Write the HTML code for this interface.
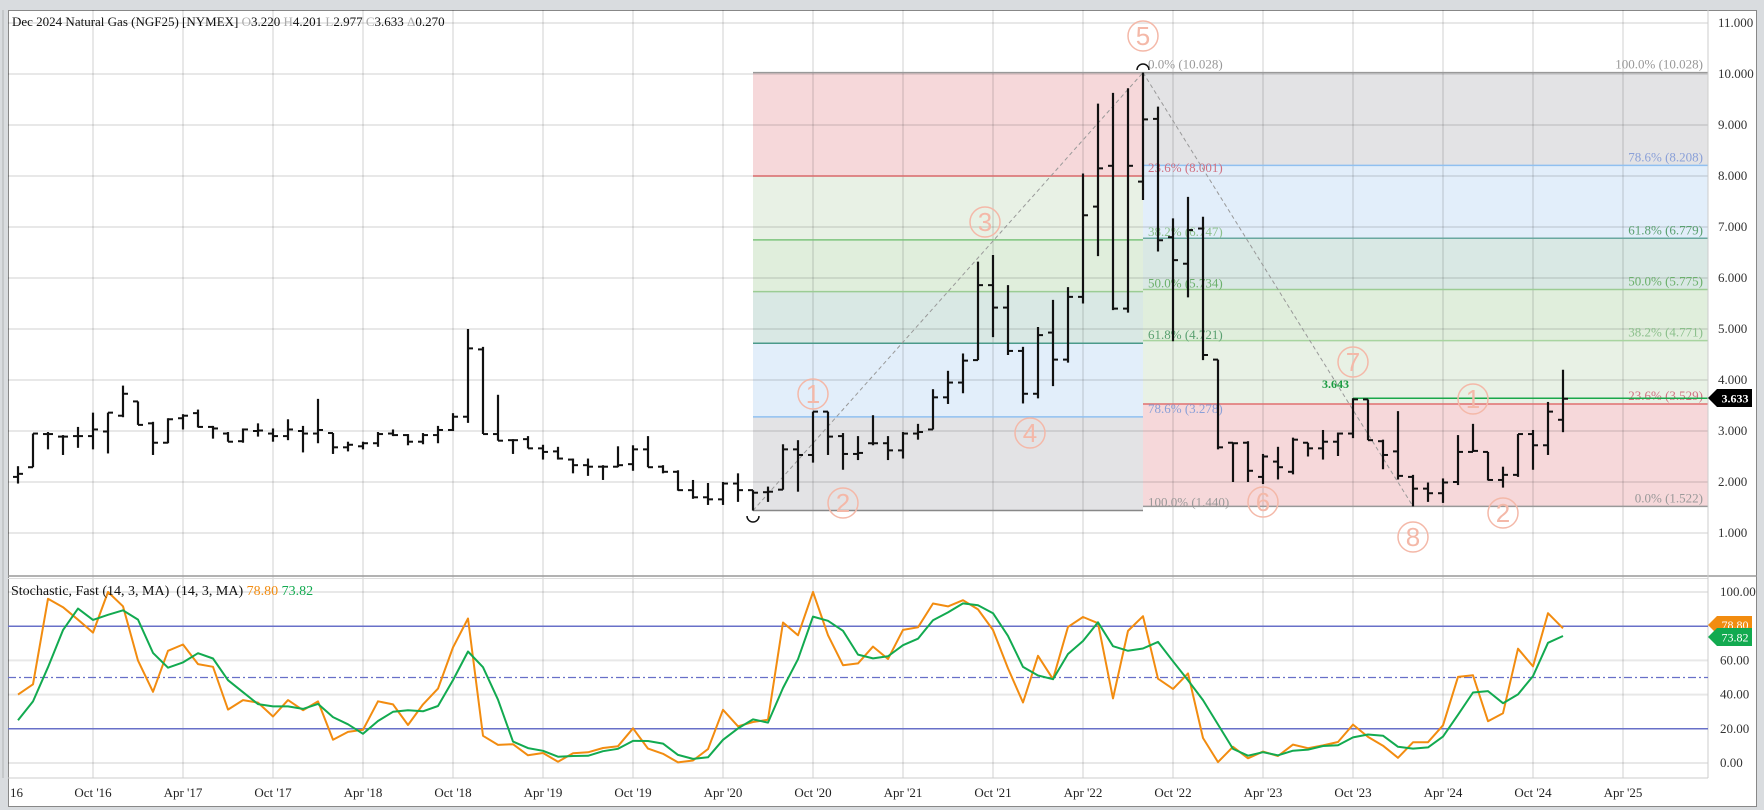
<!DOCTYPE html>
<html><head><meta charset="utf-8">
<style>
html,body{margin:0;padding:0;background:#d9dcdf;}
svg{display:block;font-family:"Liberation Serif",serif;}
</style></head>
<body>
<svg id="c" width="1764" height="810" xmlns="http://www.w3.org/2000/svg"></svg>
<script>
const D=[
[2.10,2.31,1.97,2.16],[2.29,2.95,2.29,2.95],[2.94,2.98,2.64,2.94],[2.89,2.92,2.53,2.89],[2.9,3.08,2.67,2.9],
[2.9,3.36,2.64,3.03],[2.99,3.36,2.56,3.36],[3.3,3.89,3.27,3.73],[3.58,3.58,3.12,3.12],[3.15,3.18,2.53,2.77],
[2.77,3.25,2.76,3.23],[3.25,3.33,3.03,3.3],[3.35,3.42,3.07,3.08],[3.08,3.10,2.85,3.05],[2.95,2.98,2.79,2.79],
[2.8,3.05,2.77,3.03],[3.0,3.15,2.89,3.01],[2.95,3.05,2.79,2.9],[2.9,3.23,2.82,3.03],[3.0,3.10,2.58,2.95],
[2.95,3.63,2.76,3.02],[2.96,2.96,2.55,2.68],[2.68,2.79,2.6,2.73],[2.7,2.79,2.64,2.76],[2.76,2.98,2.69,2.94],
[2.95,3.03,2.9,2.92],[2.92,2.94,2.72,2.79],[2.79,2.96,2.74,2.92],[2.92,3.10,2.76,3.02],[3.02,3.35,3.0,3.28],
[3.28,5.0,3.16,4.62],[4.6,4.65,2.94,2.94],[2.94,3.71,2.81,2.81],[2.82,2.84,2.55,2.82],[2.84,2.9,2.66,2.66],
[2.66,2.73,2.44,2.59],[2.6,2.69,2.44,2.46],[2.44,2.46,2.17,2.33],[2.33,2.46,2.12,2.3],[2.3,2.33,2.04,2.3],
[2.3,2.7,2.29,2.33],[2.35,2.72,2.22,2.64],[2.64,2.9,2.29,2.29],[2.3,2.33,2.17,2.2],[2.2,2.23,1.83,1.84],
[1.84,2.04,1.67,1.7],[1.7,1.98,1.55,1.66],[1.66,2.0,1.55,1.97],[1.97,2.17,1.61,1.84],[1.84,1.84,1.44,1.79],
[1.8,1.91,1.61,1.81],[1.85,2.74,1.85,2.64],[2.64,2.82,1.81,2.53],[2.53,3.38,2.38,3.38],[3.38,3.38,2.53,2.89],
[2.9,2.96,2.24,2.55],[2.55,2.9,2.43,2.57],[2.76,3.31,2.72,2.76],[2.76,2.9,2.43,2.62],[2.62,2.98,2.46,2.95],
[2.95,3.14,2.83,2.98],[3.03,3.82,3.03,3.66],[3.66,4.18,3.53,3.95],[3.95,4.52,3.74,4.38],[4.39,6.32,4.39,5.86],
[5.86,6.45,4.84,5.42],[5.42,5.86,4.49,4.57],[4.57,4.65,3.54,3.73],[3.73,5.04,3.64,4.88],[4.93,5.57,3.88,4.40],
[4.4,5.82,4.34,5.63],[5.63,8.05,5.5,7.23],[7.4,9.42,6.43,8.15],[8.2,9.63,5.37,5.4],[5.4,9.72,5.32,8.2],
[7.89,10.028,7.53,9.11],[9.12,9.36,6.52,6.74],[6.8,7.17,4.76,6.35],[6.28,7.59,5.62,6.94],[6.97,7.2,4.39,4.49],
[4.40,4.40,2.64,2.68],[2.77,2.77,2.0,2.76],[2.77,2.8,2.0,2.22],[2.1,2.55,1.96,2.5],[2.4,2.69,2.05,2.29],
[2.2,2.87,2.15,2.83],[2.77,2.77,2.5,2.66],[2.66,3.02,2.44,2.79],[2.79,2.97,2.51,2.95],[2.95,3.643,2.86,3.62],
[3.62,3.62,2.82,2.82],[2.8,2.83,2.25,2.53],[2.6,3.39,2.05,2.12],[2.1,2.14,1.522,1.87],[1.87,1.99,1.61,1.78],
[1.78,2.07,1.59,1.99],[2.0,2.92,1.94,2.59],[2.59,3.14,2.59,2.61],[2.59,2.59,2.03,2.04],[2.04,2.3,1.89,2.14],
[2.14,2.94,2.1,2.94],[2.94,3.02,2.24,2.72],[2.72,3.57,2.53,3.38],[3.22,4.201,2.977,3.633]];
const X=m=>93+15*m, Y=p=>584-51*p, S=v=>763-1.71*v;
let h='';
const L=(x1,y1,x2,y2,c,w,extra)=>h+=`<line x1="${x1}" y1="${y1}" x2="${x2}" y2="${y2}" stroke="${c}" stroke-width="${w}" ${extra||''}/>`;
const R=(x,y,w,hh,c)=>h+=`<rect x="${x}" y="${y}" width="${w}" height="${hh}" fill="${c}"/>`;
const T=(x,y,t,c,s,a,extra)=>h+=`<text x="${x}" y="${y}" fill="${c}" font-size="${s||13}" text-anchor="${a||'start'}" ${extra||''}>${t}</text>`;
R(8,10,1749,797,'#fff');
h+=`<rect x="8.5" y="10.5" width="1748" height="796" fill="none" stroke="#888"/>`;
const fl=[[10.028,8.001,'#f6d8da'],[8.001,6.747,'#e8f1e5'],[6.747,5.734,'#e0eedc'],[5.734,4.721,'#d9e8e4'],[4.721,3.278,'#e2eefa'],[3.278,1.44,'#e3e3e5']];
fl.forEach(f=>R(753,Y(f[0]),390,Y(f[1])-Y(f[0]),f[2]));
const fr=[[10.028,8.208,'#e3e3e5'],[8.208,6.779,'#e2eefa'],[6.779,5.775,'#d9e8e4'],[5.775,4.771,'#e0eedc'],[4.771,3.529,'#e8f1e5'],[3.529,1.522,'#f6d8da']];
fr.forEach(f=>R(1143,Y(f[0]),565,Y(f[1])-Y(f[0]),f[2]));
for(let p=1;p<=11;p++)L(8,Y(p),1708,Y(p),'rgba(0,0,0,0.09)',2);
[0,40,60,100].forEach(v=>L(8,S(v),1708,S(v),'rgba(0,0,0,0.09)',2));
for(let k=-1;k<=17;k++){L(93+90*k,10,93+90*k,778,'rgba(0,0,0,0.09)',2);}
[[10.028,'#999'],[8.001,'#e07070'],[6.747,'#7cc47c'],[5.734,'#9ccc94'],[4.721,'#4a9a8a'],[3.278,'#90c0f0'],[1.44,'#888']].forEach(f=>L(753,Y(f[0]),1143,Y(f[0]),f[1],1.5));
[[10.028,'#999'],[8.208,'#90c0f0'],[6.779,'#6aa8a0'],[5.775,'#9ccc94'],[4.771,'#a8d4a0'],[3.529,'#e07070'],[1.522,'#999']].forEach(f=>L(1143,Y(f[0]),1708,Y(f[0]),f[1],1.5));
[['0.0% (10.028)',10.028,'#999'],['23.6% (8.001)',8.001,'#d07080'],['38.2% (6.747)',6.747,'#8cc08c'],['50.0% (5.734)',5.734,'#6cb06c'],['61.8% (4.721)',4.721,'#5aa070'],['78.6% (3.278)',3.278,'#8aa0d8'],['100.0% (1.440)',1.44,'#999']].forEach(f=>T(1148,Y(f[1])-4,f[0],f[2],13));
[['100.0% (10.028)',10.028,'#999'],['78.6% (8.208)',8.208,'#8aa0d8'],['61.8% (6.779)',6.779,'#5aa070'],['50.0% (5.775)',5.775,'#6cb06c'],['38.2% (4.771)',4.771,'#8cc08c'],['23.6% (3.529)',3.529,'#d07080'],['0.0% (1.522)',1.522,'#999']].forEach(f=>T(1703,Y(f[1])-4,f[0],f[2],13,'end'));
L(753,Y(1.44),1143,Y(10.028),'#999',1,'stroke-dasharray="4,3"');
L(1143,Y(10.028),1413,Y(1.522),'#999',1,'stroke-dasharray="4,3"');
L(1353,Y(3.643),1708,Y(3.643),'#1aa84a',1.5);
T(1322,Y(3.643)-10,'3.643','#1a9a40',12,'start','font-weight="bold"');
h+=`<path d="M747,516 a6,6 0 0 0 12,0" fill="none" stroke="#111" stroke-width="1.5"/>`;
h+=`<path d="M1137,70 a6,6 0 0 1 12,0" fill="none" stroke="#111" stroke-width="1.5"/>`;
D.forEach((d,i)=>{const x=X(i-5);L(x,Y(d[1]),x,Y(d[2]),'#111',2.2);L(x-5,Y(d[0]),x,Y(d[0]),'#111',2);L(x,Y(d[3]),x+5,Y(d[3]),'#111',2);});
[['1',813,394],['2',843,503],['3',985,222],['4',1030,433],['5',1143,36],['6',1263,502],['7',1353,362],['8',1413,537],['1',1473,399],['2',1503,513]].forEach(w=>{
h+=`<circle cx="${w[1]}" cy="${w[2]}" r="15" fill="none" stroke="#f4b8a8" stroke-width="1.5"/>`;
T(w[1],w[2]+9,w[0],'#f4b8a8',26,'middle','font-family="Liberation Sans,sans-serif"');});
L(8,576,1757,576,'#999',1.5);L(8,578.5,1708,578.5,'#ddd',1);
L(1708,10,1708,778,'#ccc',1);L(8,778,1708,778,'#ccc',1);
L(8,S(80),1708,S(80),'#6870c8',1.5);L(8,S(20),1708,S(20),'#6870c8',1.5);
L(8,S(50),1708,S(50),'#6870c8',1.2,'stroke-dasharray="8,3,2,3"');
const K=[],Dd=[];
D.forEach((d,i)=>{let hh=-1e9,ll=1e9;for(let j=Math.max(0,i-13);j<=i;j++){hh=Math.max(hh,D[j][1]);ll=Math.min(ll,D[j][2]);}
K.push(hh>ll?(d[3]-ll)/(hh-ll)*100:50);});
K[0]=40;K[1]=46;
K.forEach((k,i)=>{let s=0,n=0;for(let j=Math.max(0,i-2);j<=i;j++){s+=K[j];n++;}Dd.push(s/n);});
Dd[0]=25;Dd[1]=36;Dd[2]=56;
const pl=(a,c)=>h+=`<polyline fill="none" stroke="${c}" stroke-width="2" stroke-linejoin="round" points="${a.map((v,i)=>X(i-5)+','+S(v).toFixed(1)).join(' ')}"/>`;
pl(K,'#f28c10');pl(Dd,'#12aa50');
for(let p=1;p<=11;p++)T(1718,Y(p)+4,p.toFixed(3),'#333',13);
[0,20,40,60,100].forEach(v=>T(1720,S(v)+4,v.toFixed(2),'#333',13));
h+=`<polygon points="1708,398 1717,389 1752,389 1752,407 1717,407" fill="#000"/>`;T(1735,402.5,'3.633','#fff',12,'middle','font-weight="bold"');
h+=`<polygon points="1708,625 1717,616 1752,616 1752,634 1717,634" fill="#f28c10"/>`;T(1735,629,'78.80','#fff',12,'middle');
h+=`<polygon points="1708,637 1717,628 1752,628 1752,646 1717,646" fill="#12aa50"/>`;T(1735,641.5,'73.82','#fff',12,'middle');
T(10,797,'16','#222',13);
const ml=["Oct '16","Apr '17","Oct '17","Apr '18","Oct '18","Apr '19","Oct '19","Apr '20","Oct '20","Apr '21","Oct '21","Apr '22","Oct '22","Apr '23","Oct '23","Apr '24","Oct '24","Apr '25"];
ml.forEach((t,k)=>T(93+90*k,797,t,'#222',13,'middle'));
h+=`<text x="12" y="26" font-size="13" fill="#111">Dec 2024 Natural Gas (NGF25) [NYMEX] <tspan fill="#aaa">O</tspan>3.220 <tspan fill="#aaa">H</tspan>4.201 <tspan fill="#aaa">L</tspan>2.977 <tspan fill="#aaa">C</tspan>3.633 <tspan fill="#aaa">Δ</tspan>0.270</text>`;
h+=`<text x="11" y="595" font-size="14" fill="#111">Stochastic, Fast (14, 3, MA) &#160;(14, 3, MA) <tspan fill="#f28c10">78.80</tspan> <tspan fill="#12aa50">73.82</tspan></text>`;
document.getElementById('c').innerHTML=h;
</script>
</body></html>
